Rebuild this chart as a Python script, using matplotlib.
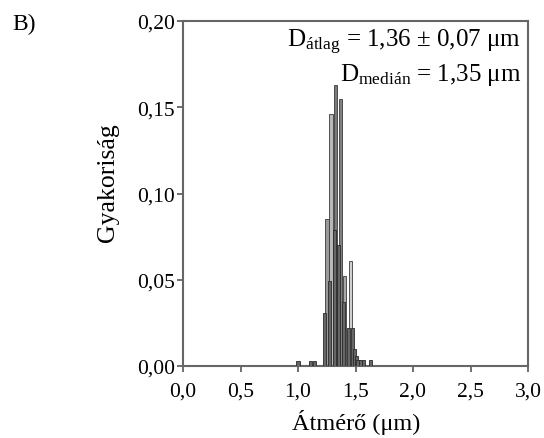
import matplotlib
matplotlib.use("Agg")
import matplotlib.pyplot as plt
from matplotlib.ticker import FuncFormatter

plt.rcParams['font.family'] = ['Liberation Serif', 'DejaVu Serif']
plt.rcParams['mathtext.fontset'] = 'custom'
plt.rcParams['mathtext.rm'] = 'Liberation Serif'
plt.rcParams['mathtext.it'] = 'Liberation Serif:italic'

# Back bars: diameter (µm) and relative frequency
light_x = [1.252, 1.287, 1.326, 1.371, 1.405, 1.455]
light_y = [0.085, 0.146, 0.163, 0.155, 0.052, 0.061]
light_c = ['#9a9a9a', '#b8b8b8', '#7a7a7a', '#808080', '#a8a8a8', '#d0d0d0']

# Front (dark gray) bars
dark_x = [1.000, 1.109, 1.145, 1.230, 1.275, 1.315, 1.352, 1.394, 1.437,
          1.476, 1.492, 1.507, 1.522, 1.545, 1.568, 1.630]
dark_y = [0.003, 0.003, 0.003, 0.031, 0.049, 0.079, 0.070, 0.037, 0.022,
          0.022, 0.010, 0.006, 0.0035, 0.0035, 0.0035, 0.0035]

xticks = [0.0, 0.5, 1.0, 1.5, 2.0, 2.5, 3.0]
yticks = [0.00, 0.05, 0.10, 0.15, 0.20]

fig = plt.figure(figsize=(5.44, 4.39), dpi=100)
ax = fig.add_axes([183/544, 1-367/439, 345/544, 345/439])

ax.bar(light_x, light_y, width=0.028, color=light_c, edgecolor='#3a3a3a', linewidth=0.6, zorder=2)
ax.bar(dark_x, dark_y, width=0.028, color='#666666', edgecolor='#2a2a2a', linewidth=0.6, zorder=3)

ax.set_xlim(0, 3)
ax.set_ylim(0, 0.2)
ax.set_xticks(xticks)
ax.set_yticks(yticks)
ax.xaxis.set_major_formatter(FuncFormatter(lambda v, p: f"{v:.1f}".replace('.', ',')))
ax.yaxis.set_major_formatter(FuncFormatter(lambda v, p: f"{v:.2f}".replace('.', ',')))
ax.tick_params(direction='out', length=4, width=1.2, color='#555555', labelsize=15.5)
ax.tick_params(axis='x', pad=7)
ax.tick_params(axis='y', pad=2)
for s in ax.spines.values():
    s.set_color('#666666')
    s.set_linewidth(1.5)

fig.text(356/544, 1-423/439, 'Átmérő (μm)', ha='center', va='center', fontsize=17.5)
fig.text(108/544, 1-183/439, 'Gyakoriság', ha='center', va='center', rotation=90, fontsize=18.5)
fig.text(12/544, 1-24/439, 'B)', ha='left', va='center', fontsize=17)

ax.text(0.98, 0.925, r'D$_{\mathrm{átlag}}$ = 1,36 ± 0,07 μm', transform=ax.transAxes,
        ha='right', va='baseline', fontsize=18)
ax.text(0.98, 0.83, r'D$_{\mathrm{medián}}$ = 1,35 μm', transform=ax.transAxes,
        ha='right', va='baseline', fontsize=18)

fig.savefig('out.png', dpi=100)
